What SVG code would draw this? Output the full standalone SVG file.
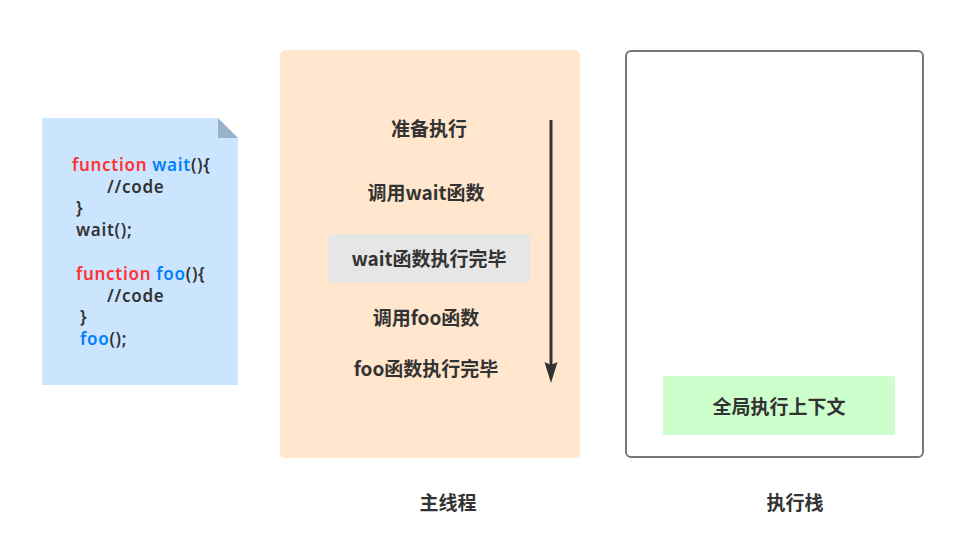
<svg xmlns="http://www.w3.org/2000/svg" width="957" height="551" viewBox="0 0 957 551">
<defs>
<style>
.lbl{font-family:"Noto Sans CJK SC","Noto Sans",sans-serif;font-weight:bold;font-size:19px;fill:#333;text-anchor:middle}
.code{font-family:"Noto Sans","Noto Sans CJK SC",sans-serif;font-weight:600;font-size:17px;letter-spacing:0.7px;fill:#333}
.kw{fill:#ff3333}
.fn{fill:#007fff}
</style>
</defs>
<rect width="957" height="551" fill="#fff"/>
<g id="code-doc">
<path d="M42,118 H218 L238,138 V385 H42 Z" fill="#cce5ff"/>
<path d="M218,118 L238,138 H218 Z" fill="#9ab3cc"/>
<text class="code" x="72" y="171"><tspan class="kw">function</tspan> <tspan class="fn">wait</tspan>(){</text>
<text class="code" x="107" y="193">//code</text>
<text class="code" x="76" y="214">}</text>
<text class="code" x="76" y="236">wait();</text>
<text class="code" x="76" y="280"><tspan class="kw">function</tspan> <tspan class="fn">foo</tspan>(){</text>
<text class="code" x="107" y="302">//code</text>
<text class="code" x="80" y="323">}</text>
<text class="code" x="80" y="345"><tspan class="fn">foo</tspan>();</text>
</g>
<g id="main-thread">
<rect x="280" y="50" width="300" height="408" rx="5" fill="#ffe6cc"/>
<rect x="328" y="234" width="203" height="49" rx="6" fill="#e6e6e6"/>
<text class="lbl" x="429" y="136">准备执行</text>
<text class="lbl" x="426" y="200">调用wait函数</text>
<text class="lbl" x="429" y="266">wait函数执行完毕</text>
<text class="lbl" x="426" y="325">调用foo函数</text>
<text class="lbl" x="426" y="376">foo函数执行完毕</text>
<text class="lbl" x="448" y="510">主线程</text>
</g>
<g id="exec-stack">
<rect x="626" y="51" width="297" height="406" rx="5" fill="#fff" stroke="#777" stroke-width="2"/>
<rect x="663" y="376" width="232" height="59" rx="1" fill="#ccffcc"/>
<text class="lbl" x="779" y="414">全局执行上下文</text>
<text class="lbl" x="795" y="510">执行栈</text>
</g>
<g id="connectors">
<line x1="551" y1="120" x2="551" y2="366" stroke="#333" stroke-width="3"/>
<path d="M544.5,362 L551,365 L557.5,362 L551,383 Z" fill="#333"/>
</g>
</svg>
